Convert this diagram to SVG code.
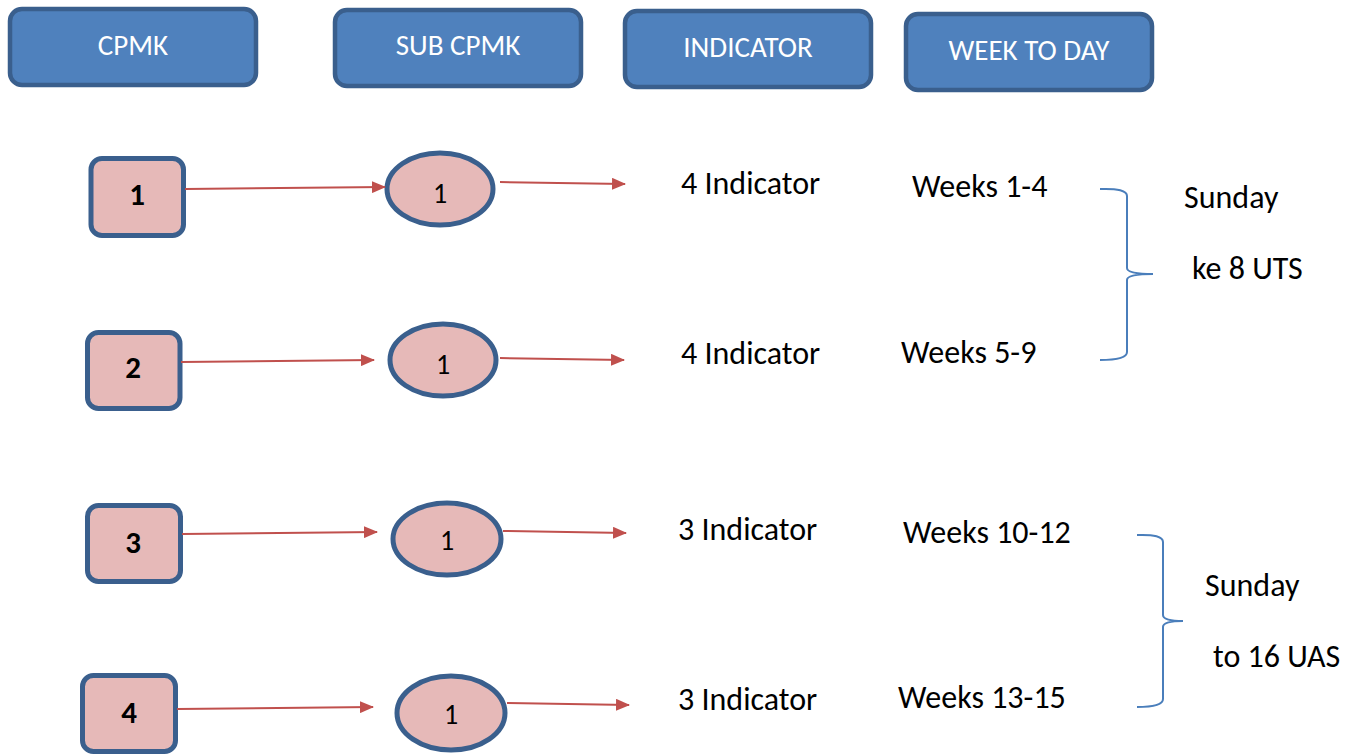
<svg xmlns="http://www.w3.org/2000/svg" width="1348" height="755" viewBox="0 0 1348 755">
  <defs>
    <marker id="arrow" markerWidth="14" markerHeight="12" refX="13" refY="6" orient="auto" markerUnits="userSpaceOnUse">
      <path d="M0,0 L14,6 L0,12 Z" fill="#c0504d"/>
    </marker>
    <style>
      .hdr rect { fill: #4f81bd; stroke: #3a5f8d; stroke-width: 4.5; }
      .hdr text { fill: #ffffff; font-family: Carlito, Lato, "Liberation Sans", sans-serif; font-size: 29px; text-anchor: middle; }
      .sq rect { fill: #e6b9b8; stroke: #3a5f8d; stroke-width: 5; }
      .sq text { fill: #000000; font-family: Carlito, Lato, "Liberation Sans", sans-serif; font-size: 31px; font-weight: bold; text-anchor: middle; }
      .el ellipse { fill: #e6b9b8; stroke: #3a5f8d; stroke-width: 5; }
      .el text { fill: #000000; font-family: Carlito, Lato, "Liberation Sans", sans-serif; font-size: 28px; text-anchor: middle; }
      .lbl { fill: #000000; font-family: Carlito, Lato, "Liberation Sans", sans-serif; font-size: 32px; }
      .conn line { stroke: #c0504d; stroke-width: 2; marker-end: url(#arrow); }
      .brace { fill: none; stroke: #4a7ebb; stroke-width: 2; }
    </style>
  </defs>
  <rect width="1348" height="755" fill="#ffffff"/>

  <!-- column headers -->
  <g id="hdr-cpmk" class="hdr"><rect x="10" y="9" width="246" height="76" rx="12"/><text x="133" y="55">CPMK</text></g>
  <g id="hdr-sub" class="hdr"><rect x="335" y="10" width="246" height="76" rx="12"/><text x="458" y="55">SUB CPMK</text></g>
  <g id="hdr-ind" class="hdr"><rect x="625" y="11" width="246" height="76" rx="12"/><text x="748" y="57">INDICATOR</text></g>
  <g id="hdr-week" class="hdr"><rect x="906" y="14" width="246" height="76" rx="12"/><text x="1029" y="60">WEEK TO DAY</text></g>

  <!-- CPMK nodes -->
  <g id="cpmk-1" class="sq"><rect x="91" y="158.5" width="92.5" height="77" rx="11"/><text x="137" y="205">1</text></g>
  <g id="cpmk-2" class="sq"><rect x="87.5" y="332.5" width="92.5" height="76" rx="11"/><text x="133" y="378">2</text></g>
  <g id="cpmk-3" class="sq"><rect x="87.5" y="505.5" width="93" height="76" rx="11"/><text x="133" y="553">3</text></g>
  <g id="cpmk-4" class="sq"><rect x="82.5" y="675.5" width="93" height="76" rx="11"/><text x="129" y="723">4</text></g>

  <!-- SUB CPMK nodes -->
  <g id="sub-1" class="el"><ellipse cx="440" cy="189" rx="53" ry="36"/><text x="440" y="203">1</text></g>
  <g id="sub-2" class="el"><ellipse cx="443" cy="360" rx="53" ry="36"/><text x="443" y="374">1</text></g>
  <g id="sub-3" class="el"><ellipse cx="447" cy="539" rx="54" ry="36"/><text x="447" y="550">1</text></g>
  <g id="sub-4" class="el"><ellipse cx="451" cy="713" rx="54" ry="37"/><text x="451" y="724">1</text></g>

  <!-- connectors -->
  <g id="connectors" class="conn">
    <line x1="185" y1="189" x2="385" y2="187"/>
    <line x1="500" y1="182" x2="625" y2="184"/>
    <line x1="181" y1="362" x2="374" y2="360"/>
    <line x1="500" y1="358" x2="624" y2="360"/>
    <line x1="182" y1="534" x2="377" y2="532"/>
    <line x1="503" y1="531" x2="626" y2="533"/>
    <line x1="177" y1="709" x2="373" y2="707"/>
    <line x1="507" y1="703" x2="629" y2="705"/>
  </g>

  <!-- indicator counts -->
  <g id="indicators">
    <text class="lbl" x="681" y="194">4 Indicator</text>
    <text class="lbl" x="681" y="364">4 Indicator</text>
    <text class="lbl" x="678" y="540">3 Indicator</text>
    <text class="lbl" x="678" y="710">3 Indicator</text>
  </g>

  <!-- week ranges -->
  <g id="weeks">
    <text class="lbl" x="912" y="197">Weeks 1-4</text>
    <text class="lbl" x="901" y="363">Weeks 5-9</text>
    <text class="lbl" x="903" y="543">Weeks 10-12</text>
    <text class="lbl" x="898" y="708">Weeks 13-15</text>
  </g>

  <!-- braces grouping weeks -->
  <g id="brace-uts">
    <path class="brace" d="M1100,189 Q1127,188 1127,196 L1127,268 Q1127,274 1153,274 Q1127,274 1127,280 L1127,352 Q1127,360 1100,360"/>
    <text class="lbl" x="1184" y="208">Sunday</text>
    <text class="lbl" x="1192" y="279">ke 8 UTS</text>
  </g>
  <g id="brace-uas">
    <path class="brace" d="M1137,535 Q1163,534 1163,542 L1163,615 Q1163,621 1183,621 Q1163,621 1163,627 L1163,699 Q1163,707 1137,707"/>
    <text class="lbl" x="1205" y="596">Sunday</text>
    <text class="lbl" x="1213" y="667">to 16 UAS</text>
  </g>
</svg>
